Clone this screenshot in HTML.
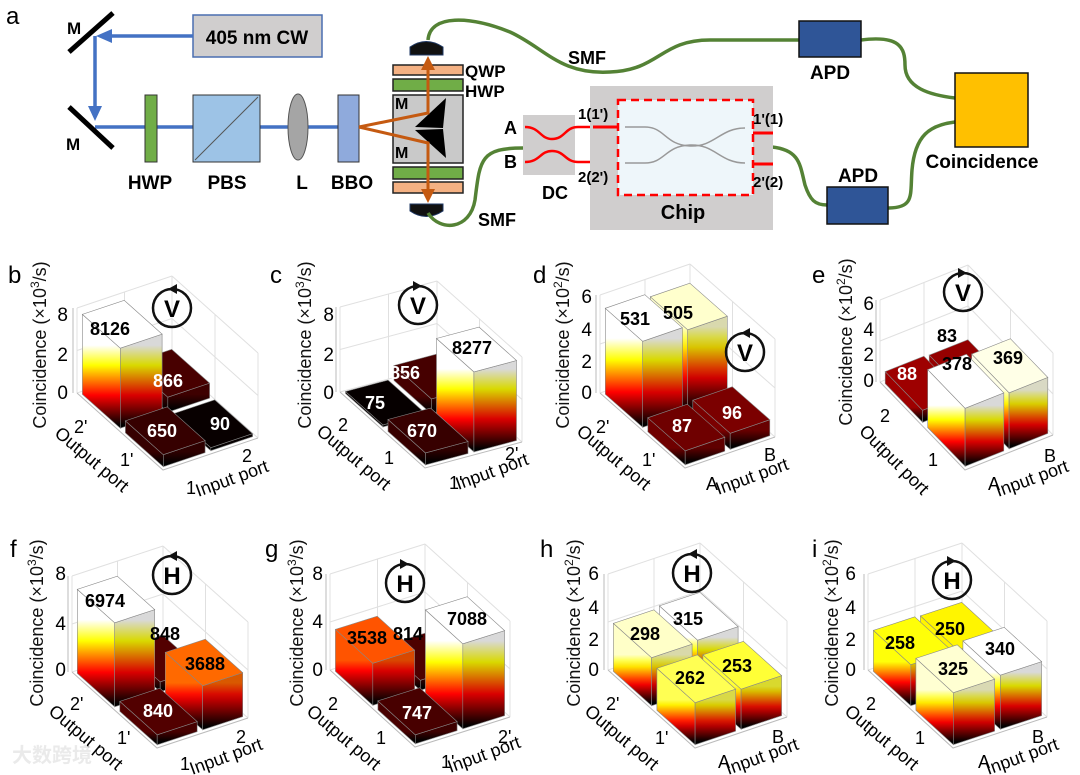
<!DOCTYPE html>
<html><head><meta charset="utf-8">
<style>
html,body{margin:0;padding:0;background:#fff;}
svg{display:block;}
text{font-family:"Liberation Sans","Noto Sans CJK SC",sans-serif;}
.b{font-weight:bold;}
</style></head>
<body>
<svg id="s" xmlns="http://www.w3.org/2000/svg" width="1080" height="775" viewBox="0 0 1080 775">
<defs></defs>
<!-- ========== panel a ========== -->
<text x="6" y="24" font-size="24">a</text>
<rect x="193" y="15" width="129" height="42" fill="#d0cece" stroke="#4a6fb0" stroke-width="1.5"/>
<text x="257" y="44" font-size="19" class="b" text-anchor="middle">405 nm CW</text>
<g stroke="#4472c4" stroke-width="3.5" fill="none">
<line x1="193" y1="36" x2="108" y2="36"/>
<line x1="95" y1="36" x2="95" y2="112"/>
<line x1="95" y1="127" x2="340" y2="127"/>
</g>
<path d="M96,36 L112,29 L112,43 z" fill="#4472c4"/>
<path d="M95,121 L88,106 L102,106 z" fill="#4472c4"/>
<line x1="69" y1="52" x2="113" y2="13" stroke="#000" stroke-width="5"/>
<line x1="69" y1="107" x2="113" y2="148" stroke="#000" stroke-width="5"/>
<text x="67" y="34" font-size="17" class="b">M</text>
<text x="66" y="150" font-size="17" class="b">M</text>
<rect x="145" y="95" width="12" height="67" fill="#70ad47" stroke="#333" stroke-width="1"/>
<rect x="193" y="95" width="67" height="67" fill="#9dc3e6" stroke="#333" stroke-width="1"/>
<line x1="195" y1="160" x2="258" y2="97" stroke="#555" stroke-width="1"/>
<ellipse cx="298" cy="127" rx="10" ry="33" fill="#a5a5a5" stroke="#555"/>
<rect x="338" y="95" width="21" height="67" fill="#8faadc" stroke="#333" stroke-width="1"/>
<text x="150" y="189" font-size="19" class="b" text-anchor="middle">HWP</text>
<text x="227" y="189" font-size="19" class="b" text-anchor="middle">PBS</text>
<text x="302" y="189" font-size="19" class="b" text-anchor="middle">L</text>
<text x="352" y="189" font-size="19" class="b" text-anchor="middle">BBO</text>
<rect x="393" y="65" width="70" height="10" fill="#f4b183" stroke="#222" stroke-width="1.5"/>
<rect x="393" y="79" width="70" height="12" fill="#70ad47" stroke="#222" stroke-width="1.5"/>
<rect x="393" y="95" width="70" height="68" fill="#c9c9c9" stroke="#222" stroke-width="1.5"/>
<rect x="393" y="167" width="70" height="12" fill="#70ad47" stroke="#222" stroke-width="1.5"/>
<rect x="393" y="182" width="70" height="11" fill="#f4b183" stroke="#222" stroke-width="1.5"/>
<path d="M446,98 L415,127 L443,128 z" fill="#000"/>
<path d="M446,158 L415,130 L443,129 z" fill="#000"/>
<text x="395" y="109" font-size="16" class="b">M</text>
<text x="395" y="158" font-size="16" class="b">M</text>
<text x="465" y="77" font-size="17" class="b">QWP</text>
<text x="465" y="97" font-size="17" class="b">HWP</text>
<g stroke="#c55a11" stroke-width="3" fill="none">
<polyline points="359,127 428,113 428,66"/>
<polyline points="359,127 428,143 428,192"/>
</g>
<path d="M428,56 L421,70 L435,70 z" fill="#c55a11"/>
<path d="M428,203 L421,189 L435,189 z" fill="#c55a11"/>
<path d="M410,55 L410,47 Q426,36 443,47 L443,55 z" fill="#111" stroke="#1f3864"/>
<path d="M410,204 L410,211 Q426,222 443,211 L443,204 z" fill="#111" stroke="#1f3864"/>
<g stroke="#548235" stroke-width="3.5" fill="none">
<path d="M428,40 C430,14 470,16 510,32 C545,48 560,75 610,72 C660,70 660,40 710,40 L799,40"/>
<path d="M861,40 C900,35 905,48 905,65 C905,88 930,95 955,98"/>
<path d="M428,213 C440,232 470,230 475,200 C480,160 480,148 523,148"/>
<path d="M772,147 C800,150 800,165 805,185 C810,200 815,205 827,205"/>
<path d="M888,208 C915,208 910,195 912,170 C915,135 930,125 955,122"/>
</g>
<text x="568" y="64" font-size="18" class="b">SMF</text>
<text x="478" y="226" font-size="18" class="b">SMF</text>
<rect x="799" y="21" width="62" height="36" fill="#2f5597" stroke="#111" stroke-width="1.5"/>
<text x="830" y="79" font-size="19" class="b" text-anchor="middle">APD</text>
<rect x="827" y="187" width="61" height="37" fill="#2f5597" stroke="#111" stroke-width="1.5"/>
<text x="858" y="182" font-size="19" class="b" text-anchor="middle">APD</text>
<rect x="955" y="73" width="73" height="74" fill="#ffc000" stroke="#111" stroke-width="1.5"/>
<text x="982" y="168" font-size="19" class="b" text-anchor="middle">Coincidence</text>
<rect x="523" y="115" width="52" height="60" fill="#d0cece"/>
<g stroke="#ff0000" stroke-width="2.5" fill="none">
<path d="M525,127 C540,127 540,139 552,139 C565,139 565,127 578,127 L618,127"/>
<path d="M525,162 C540,162 540,151 552,151 C565,151 565,162 578,162 L618,162"/>
</g>
<text x="504" y="134" font-size="18" class="b">A</text>
<text x="504" y="168" font-size="18" class="b">B</text>
<text x="555" y="199" font-size="18" class="b" text-anchor="middle">DC</text>
<rect x="590" y="86" width="183" height="144" fill="#d0cece"/>
<rect x="618" y="100" width="135" height="95" fill="#eef6fa"/>
<g stroke="#999" stroke-width="1.5" fill="none">
<path d="M625,127 L645,127 C665,127 665,145 690,146 C715,147 720,128 745,128"/>
<path d="M625,163 L645,163 C665,163 665,146 690,145 C715,144 720,163 745,163"/>
</g>
<rect x="618" y="100" width="135" height="95" fill="none" stroke="#ff0000" stroke-width="2.5" stroke-dasharray="8,5"/>
<g stroke="#ff0000" stroke-width="3"><line x1="753" y1="133" x2="773" y2="133"/><line x1="753" y1="164" x2="773" y2="164"/><line x1="593" y1="127" x2="618" y2="127"/></g>
<text x="578" y="119" font-size="15" class="b">1(1')</text>
<text x="578" y="182" font-size="15" class="b">2(2')</text>
<text x="753" y="124" font-size="15" class="b">1'(1)</text>
<text x="753" y="187" font-size="15" class="b">2'(2)</text>
<text x="683" y="219" font-size="20" class="b" text-anchor="middle">Chip</text>

<g id="grid"></g>
<g id="bars"></g>

<g font-size="24">
<text x="8" y="283">b</text><text x="270" y="283">c</text><text x="533" y="283">d</text><text x="812" y="283">e</text>
<text x="10" y="557">f</text><text x="265" y="557">g</text><text x="540" y="557">h</text><text x="812" y="557">i</text>
</g>
<g font-size="18" fill="#111">
<text transform="translate(46,345) rotate(-90)" text-anchor="middle">Coincidence (×10<tspan dy="-7" font-size="12">3</tspan><tspan dy="7">/s)</tspan></text>
<text transform="translate(311,345) rotate(-90)" text-anchor="middle">Coincidence (×10<tspan dy="-7" font-size="12">3</tspan><tspan dy="7">/s)</tspan></text>
<text transform="translate(569,345) rotate(-90)" text-anchor="middle">Coincidence (×10<tspan dy="-7" font-size="12">2</tspan><tspan dy="7">/s)</tspan></text>
<text transform="translate(852,342) rotate(-90)" text-anchor="middle">Coincidence (×10<tspan dy="-7" font-size="12">2</tspan><tspan dy="7">/s)</tspan></text>
<text transform="translate(43,623) rotate(-90)" text-anchor="middle">Coincidence (×10<tspan dy="-7" font-size="12">3</tspan><tspan dy="7">/s)</tspan></text>
<text transform="translate(303,623) rotate(-90)" text-anchor="middle">Coincidence (×10<tspan dy="-7" font-size="12">3</tspan><tspan dy="7">/s)</tspan></text>
<text transform="translate(580,623) rotate(-90)" text-anchor="middle">Coincidence (×10<tspan dy="-7" font-size="12">2</tspan><tspan dy="7">/s)</tspan></text>
<text transform="translate(838,623) rotate(-90)" text-anchor="middle">Coincidence (×10<tspan dy="-7" font-size="12">2</tspan><tspan dy="7">/s)</tspan></text>
</g>
<g font-size="19" text-anchor="end">
<text x="68" y="321">8</text><text x="68" y="361">2</text><text x="68" y="399">0</text>
<text x="334" y="321">8</text><text x="334" y="361">2</text><text x="334" y="399">0</text>
<text x="592" y="303">6</text><text x="592" y="336">4</text><text x="592" y="368">2</text><text x="592" y="399">0</text>
<text x="874" y="310">6</text><text x="874" y="336">4</text><text x="874" y="361">2</text><text x="874" y="387">0</text>
<text x="66" y="580">8</text><text x="66" y="630">4</text><text x="66" y="676">0</text>
<text x="323" y="580">8</text><text x="323" y="628">4</text><text x="323" y="676">0</text>
<text x="599" y="580">6</text><text x="599" y="614">4</text><text x="599" y="646">2</text><text x="599" y="676">0</text>
<text x="856" y="580">6</text><text x="856" y="614">4</text><text x="856" y="646">2</text><text x="856" y="676">0</text>
</g>
<g font-size="18">
<text transform="translate(88,464) rotate(40)" text-anchor="middle">Output port</text>
<text transform="translate(234,484) rotate(-20)" text-anchor="middle">Input port</text>
<text x="74" y="433">2'</text><text x="120" y="466">1'</text><text x="186" y="494">1</text><text x="242" y="462">2</text>
<text transform="translate(350,462) rotate(40)" text-anchor="middle">Output port</text>
<text transform="translate(494,477) rotate(-20)" text-anchor="middle">Input port</text>
<text x="338" y="431">2</text><text x="384" y="464">1</text><text x="449" y="489">1'</text><text x="505" y="460">2'</text>
<text transform="translate(610,462) rotate(40)" text-anchor="middle">Output port</text>
<text transform="translate(754,482) rotate(-20)" text-anchor="middle">Input port</text>
<text x="596" y="433">2'</text><text x="642" y="466">1'</text><text x="706" y="490">A</text><text x="764" y="461">B</text>
<text transform="translate(890,464) rotate(45)" text-anchor="middle">Output port</text>
<text transform="translate(1034,484) rotate(-20)" text-anchor="middle">Input port</text>
<text x="880" y="422">2</text><text x="928" y="466">1</text><text x="988" y="490">A</text><text x="1044" y="462">B</text>
<text transform="translate(82,742) rotate(40)" text-anchor="middle">Output port</text>
<text transform="translate(228,762) rotate(-20)" text-anchor="middle">Input port</text>
<text x="70" y="710">2'</text><text x="117" y="744">1'</text><text x="180" y="770">1</text><text x="236" y="743">2</text>
<text transform="translate(340,742) rotate(40)" text-anchor="middle">Output port</text>
<text transform="translate(486,760) rotate(-20)" text-anchor="middle">Input port</text>
<text x="328" y="710">2</text><text x="376" y="744">1</text><text x="441" y="768">1'</text><text x="498" y="743">2'</text>
<text transform="translate(618,742) rotate(40)" text-anchor="middle">Output port</text>
<text transform="translate(764,762) rotate(-20)" text-anchor="middle">Input port</text>
<text x="606" y="710">2'</text><text x="655" y="744">1'</text><text x="718" y="768">A</text><text x="772" y="743">B</text>
<text transform="translate(878,742) rotate(40)" text-anchor="middle">Output port</text>
<text transform="translate(1024,762) rotate(-20)" text-anchor="middle">Input port</text>
<text x="866" y="710">2</text><text x="915" y="744">1</text><text x="978" y="768">A</text><text x="1032" y="743">B</text>
</g>
<g fill="none" stroke="#111" stroke-width="2.5">
<circle cx="172" cy="308" r="19"/><circle cx="418" cy="305" r="19"/><circle cx="745" cy="352" r="19"/><circle cx="963" cy="292" r="19"/>
<circle cx="172" cy="575" r="19"/><circle cx="405" cy="583" r="19"/><circle cx="692" cy="573" r="19"/><circle cx="952" cy="580" r="19"/>
</g>
<g fill="#111">
<path d="M168,289 L177,284 L177,294 z"/><path d="M422,286 L413,281 L413,291 z"/><path d="M741,333 L750,328 L750,338 z"/><path d="M967,273 L958,268 L958,278 z"/>
<path d="M168,556 L177,551 L177,561 z"/><path d="M409,564 L400,559 L400,569 z"/><path d="M688,554 L697,549 L697,559 z"/><path d="M956,561 L947,556 L947,566 z"/>
</g>
<g font-size="24" class="b" text-anchor="middle">
<text x="172" y="317">V</text><text x="418" y="314">V</text><text x="745" y="361">V</text><text x="963" y="301">V</text>
<text x="172" y="584">H</text><text x="405" y="592">H</text><text x="692" y="582">H</text><text x="952" y="589">H</text>
</g>
<g font-size="18" class="b" text-anchor="middle">
<text x="110" y="335">8126</text><text x="168" y="387" fill="#fff">866</text><text x="162" y="437" fill="#fff">650</text><text x="220" y="430" fill="#fff">90</text>
<text x="375" y="409" fill="#fff">75</text><text x="405" y="379" fill="#fff">856</text><text x="422" y="437" fill="#fff">670</text><text x="472" y="354">8277</text>
<text x="635" y="325">531</text><text x="678" y="319">505</text><text x="682" y="432" fill="#fff">87</text><text x="732" y="419" fill="#fff">96</text>
<text x="907" y="380" fill="#fff">88</text><text x="947" y="342">83</text><text x="957" y="370">378</text><text x="1008" y="364">369</text>
<text x="105" y="607">6974</text><text x="165" y="640">848</text><text x="158" y="717" fill="#fff">840</text><text x="205" y="670">3688</text>
<text x="367" y="644">3538</text><text x="408" y="640">814</text><text x="417" y="719" fill="#fff">747</text><text x="467" y="625">7088</text>
<text x="645" y="640">298</text><text x="688" y="625">315</text><text x="690" y="684">262</text><text x="737" y="672">253</text>
<text x="900" y="649">258</text><text x="950" y="635">250</text><text x="953" y="675">325</text><text x="1000" y="655">340</text>
</g>
<text x="12" y="762" font-size="20" fill="#e6e6e6" class="b" opacity="0.8">大数跨境</text>
</svg>
<script>
(function(){
var NS="http://www.w3.org/2000/svg";
var bars=document.getElementById('bars'),grid=document.getElementById('grid'),defs=document.querySelector('defs');
var gid=0;
function cl(x){return Math.max(0,Math.min(1,x));}
function hot(t,k){k=k||1;var r=cl(t/0.375),g=cl((t-0.375)/0.375),b=cl((t-0.75)/0.25);
return 'rgb('+Math.round(r*255*k)+','+Math.round(g*255*k)+','+Math.round(b*255*k)+')';}
function el(n,a,p){var e=document.createElementNS(NS,n);for(var k in a)e.setAttribute(k,a[k]);(p||bars).appendChild(e);return e;}
function pts(a){return a.map(function(p){return p[0].toFixed(1)+','+p[1].toFixed(1);}).join(' ');}
function grad(y0,y1,t,k){var id='g'+(gid++);var lg=el('linearGradient',{id:id,gradientUnits:'userSpaceOnUse',x1:0,y1:y0,x2:0,y2:y1},defs);
for(var i=0;i<=8;i++){el('stop',{offset:i/8,'stop-color':hot(t*i/8,k)},lg);}return 'url(#'+id+')';}
function panel(F,L,R,H,list){
var U=[L[0]-F[0],L[1]-F[1]],V=[R[0]-F[0],R[1]-F[1]];
function P(u,v,z){return [F[0]+u*U[0]+v*V[0],F[1]+u*U[1]+v*V[1]-z];}
var s={stroke:'#e0e0e0','stroke-width':1,fill:'none'};
var B=P(1,1,0);
[[L,P(1,0,H)],[B,P(1,1,H)],[R,P(0,1,H)],[L,B],[B,R],[P(1,0,H),P(1,1,H)],[P(1,1,H),P(0,1,H)],[P(1,0.5,0),P(1,0.5,H)],[P(0.5,1,0),P(0.5,1,H)],[P(1,0,H/2),P(1,1,H/2)],[P(1,1,H/2),P(0,1,H/2)]].forEach(function(l){
 var a=Object.assign({x1:l[0][0],y1:l[0][1],x2:l[1][0],y2:l[1][1]},s);el('line',a,grid);});
el('polyline',{points:pts([L,F,R]),stroke:'#bbb','stroke-width':1,fill:'none'},grid);
el('line',{x1:L[0]-4,y1:L[1],x2:L[0]-4,y2:L[1]-H,stroke:'#bbb','stroke-width':1},grid);
list.sort(function(x,y){return (y[0]+y[1])-(x[0]+x[1]);});
var g=0.03;
list.forEach(function(b){
 var a=b[0],c=b[1],h=b[2],t=b[3];
 var u0=a*0.5+g,u1=a*0.5+0.5-g,v0=c*0.5+g,v1=c*0.5+0.5-g;
 var f1=[P(u0,v0,0),P(u1,v0,0),P(u1,v0,h),P(u0,v0,h)];
 var f2=[P(u0,v0,0),P(u0,v1,0),P(u0,v1,h),P(u0,v0,h)];
 var tp=[P(u0,v0,h),P(u1,v0,h),P(u1,v1,h),P(u0,v1,h)];
 var yb1=Math.max(f1[0][1],f1[1][1]),yb2=Math.max(f2[0][1],f2[1][1]);
 el('polygon',{points:pts(f1),fill:grad(yb1-3,yb1-3-h,t,1),stroke:'#888','stroke-width':0.6});
 el('polygon',{points:pts(f2),fill:grad(yb2-3,yb2-3-h,t,0.85),stroke:'#888','stroke-width':0.6});
 el('polygon',{points:pts(tp),fill:hot(t),stroke:'#888','stroke-width':0.6});
});
}
panel([163,470],[77,393],[258,438],85,[[1,0,80,1],[1,1,15,866/8126],[0,0,12,650/8126],[0,1,3,90/8126]]);
panel([425,468],[340,392],[522,442],85,[[1,0,2,75/8277],[1,1,15,856/8277],[0,0,12,670/8277],[0,1,80,1]]);
panel([685,468],[600,393],[775,437],98,[[1,0,86,1],[1,1,82,505/531],[0,0,14,87/531],[0,1,16,96/531]]);
panel([965,470],[880,382],[1053,435],82,[[1,0,12,88/378],[1,1,11,83/378],[0,0,58,1],[0,1,56,369/378]]);
panel([157,748],[72,672],[248,718],96,[[1,0,84,1],[1,1,10,848/6974],[0,0,10,840/6974],[0,1,44,3688/6974]]);
panel([415,747],[330,670],[510,717],96,[[1,0,42,3538/7088],[1,1,10,814/7088],[0,0,9,747/7088],[0,1,85,1]]);
panel([695,748],[608,670],[787,717],96,[[1,0,48,298/315],[1,1,50,1],[0,0,42,262/315],[0,1,40,253/315]]);
panel([953,748],[868,670],[1047,717],96,[[1,0,41,258/340],[1,1,40,250/340],[0,0,52,325/340],[0,1,54,1]]);
})();
</script>
</body></html>
